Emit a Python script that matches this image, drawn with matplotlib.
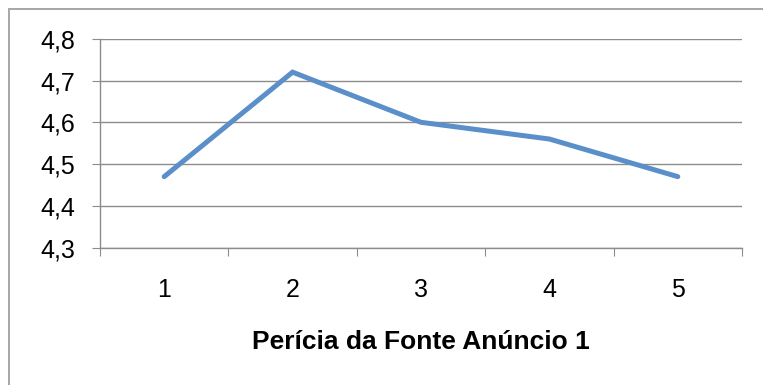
import matplotlib.pyplot as plt
import matplotlib.patches as patches
import numpy as np

plt.rcParams['font.family'] = ['Liberation Sans', 'DejaVu Sans']

categorias = ['1', '2', '3', '4', '5']
valores = [4.47, 4.72, 4.60, 4.56, 4.47]
y_ticks = [4.3, 4.4, 4.5, 4.6, 4.7, 4.8]
y_labels = ['4,3', '4,4', '4,5', '4,6', '4,7', '4,8']

fig = plt.figure(figsize=(7.63, 3.85), dpi=100)
ax = fig.add_axes([100 / 763, 1 - 247.7 / 385, 642 / 763, 209 / 385])

# moldura externa do gráfico
fig.patches.append(patches.Rectangle((9 / 763, -0.1), 1.0, 1 - 9.5 / 385 + 0.1,
                                     transform=fig.transFigure, fill=False,
                                     edgecolor='#a6a6a6', linewidth=1.4))

x = np.arange(len(valores)) + 0.5
ax.plot(x, valores, color='#5b8fca', linewidth=3.6, solid_capstyle='round',
        solid_joinstyle='miter', zorder=3)

ax.set_xlim(0, len(valores))
ax.set_ylim(4.3, 4.8)
ax.set_yticks(y_ticks)
ax.set_yticklabels(y_labels)
ax.set_xticks(np.arange(len(valores) + 1))
ax.set_xticklabels([])
ax.set_xticks(x, minor=True)
ax.set_xticklabels(categorias, minor=True)

ax.grid(axis='y', color='#8c8c8c', linewidth=1.0)
ax.set_axisbelow(True)
for lado in ['top', 'right']:
    ax.spines[lado].set_visible(False)
for lado in ['left', 'bottom']:
    ax.spines[lado].set_color('#8c8c8c')
    ax.spines[lado].set_linewidth(1.0)

ax.tick_params(axis='y', which='major', length=6, color='#8c8c8c', labelsize=18, pad=12)
ax.tick_params(axis='x', which='major', length=6, color='#8c8c8c')
ax.tick_params(axis='x', which='minor', length=0, labelsize=18, pad=22)

ax.set_xlabel('Perícia da Fonte Anúncio 1', fontsize=19, fontweight='bold', labelpad=20)

fig.savefig('out.png', dpi=100)
